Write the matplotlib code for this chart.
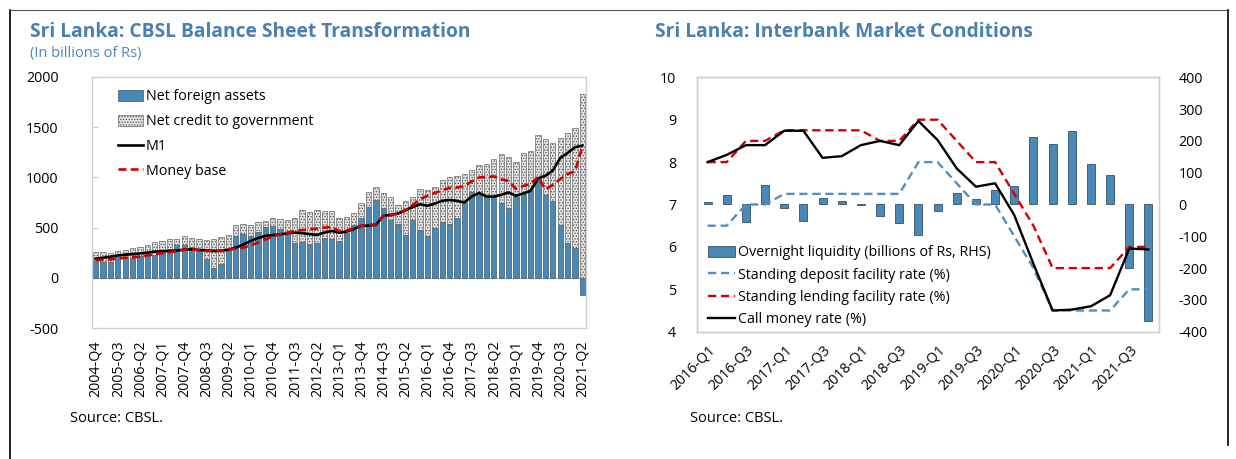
import matplotlib.pyplot as plt
import numpy as np
from matplotlib.lines import Line2D
from matplotlib.patches import Patch

plt.rcParams['font.family'] = ['Open Sans', 'DejaVu Sans']
plt.rcParams['hatch.linewidth'] = 0.6
plt.rcParams['axes.unicode_minus'] = False

TITLE_BLUE = '#4a7fb0'
SUB_BLUE = '#4a86c5'
BAR_BLUE = '#4a89b5'
FRAME = '#d0d0d0'
FS = 10.3

# ---- left panel: CBSL balance sheet, billions of Rs, 2004-Q4 .. 2021-Q2
quarters_bs = [f'{y}-Q{q}' for y in range(2004, 2022) for q in range(1, 5)][3:70]
net_foreign_assets = [167, 160, 160, 205, 210, 200, 215, 235, 225, 260, 283, 330, 327, 310,
                      270, 190, 95, 140, 270, 420, 435, 420, 460, 510, 517, 490, 425, 345,
                      357, 335, 350, 400, 390, 367, 450, 527, 600, 707, 773, 693, 573, 540,
                      427, 573, 473, 417, 500, 560, 540, 593, 750, 850, 823, 800, 800, 750,
                      693, 800, 833, 867, 1007, 823, 760, 527, 343, 300, -167]
net_credit_gov = [90, 100, 90, 58, 63, 97, 88, 95, 135, 103, 104, 60, 93, 90,
                  120, 185, 290, 270, 153, 105, 100, 103, 97, 57, 83, 93, 152, 255,
                  320, 322, 327, 267, 277, 233, 160, 116, 143, 143, 134, 147, 227, 183,
                  333, 227, 410, 456, 400, 417, 467, 420, 283, 227, 300, 333, 383, 483,
                  507, 350, 410, 393, 416, 560, 580, 866, 1097, 1190, 1833]
m1 = [190, 200, 210, 222, 230, 236, 243, 250, 260, 265, 267, 272, 280, 283,
      278, 273, 268, 270, 280, 300, 330, 367, 395, 417, 425, 433, 442, 450,
      445, 435, 427, 450, 467, 450, 460, 485, 517, 520, 527, 617, 627, 640,
      673, 705, 733, 717, 740, 767, 775, 767, 750, 810, 845, 810, 808, 827,
      850, 817, 840, 867, 990, 1017, 1067, 1193, 1243, 1300, 1317]
money_base = [177, 178, 183, 192, 200, 205, 210, 222, 236, 245, 255, 265, 280, 283,
              275, 267, 266, 268, 280, 290, 300, 323, 350, 383, 410, 433, 450, 467,
              475, 482, 490, 500, 505, 467, 470, 495, 517, 525, 533, 617, 623, 640,
              667, 725, 783, 817, 845, 873, 895, 900, 910, 960, 1000, 1003, 1010, 980,
              965, 885, 915, 935, 1005, 880, 925, 983, 1033, 1060, 1305]

# ---- right panel: interbank market, 2016-Q1 .. 2021-Q4
quarters_ib = [f'{y}-Q{q}' for y in range(2016, 2022) for q in range(1, 5)]
overnight_liquidity = [8, 30, -55, 60, -12, -52, 22, 12, -2, -35, -58, -96,
                       -22, 35, 18, 46, 57, 211, 189, 231, 128, 92, -201, -366]
sdfr = [6.5, 6.5, 7.0, 7.0, 7.25, 7.25, 7.25, 7.25, 7.25, 7.25, 7.25, 8.0,
        8.0, 7.5, 7.0, 7.0, 6.25, 5.5, 4.5, 4.5, 4.5, 4.5, 5.0, 5.0]
slfr = [8.0, 8.0, 8.5, 8.5, 8.75, 8.75, 8.75, 8.75, 8.75, 8.5, 8.5, 9.0,
        9.0, 8.5, 8.0, 8.0, 7.25, 6.5, 5.5, 5.5, 5.5, 5.5, 6.0, 6.0]
call_rate = [8.0, 8.17, 8.4, 8.4, 8.74, 8.74, 8.1, 8.14, 8.4, 8.5, 8.4, 8.97,
             8.52, 7.85, 7.42, 7.5, 6.75, 5.6, 4.5, 4.52, 4.6, 4.86, 5.96, 5.94]

W, H = 1236, 459
fig = plt.figure(figsize=(W / 100, H / 100), dpi=100)


def px(x, y):
    return x / W, 1 - y / H


def frame(ax):
    for s in ax.spines.values():
        s.set_color(FRAME)
        s.set_linewidth(1)


# ================= left panel
ax1 = fig.add_axes([92 / W, 1 - 328 / H, 494 / W, 251 / H])
x1 = np.arange(len(quarters_bs))
nfa = np.array(net_foreign_assets)
ncg = np.array(net_credit_gov)
ax1.bar(x1, nfa, width=0.72, color=BAR_BLUE, edgecolor='#1e3a52', linewidth=0.4, zorder=2)
ax1.bar(x1, ncg, width=0.72, bottom=np.maximum(nfa, 0), color='#e4e4e4',
        edgecolor='#4d4d4d', linewidth=0.4, hatch='......', zorder=2)
ax1.axhline(0, color='#c8c8c8', lw=1, zorder=1)
ax1.plot(x1, m1, color='black', lw=1.9, zorder=4)
ax1.plot(x1, money_base, color='#d40000', lw=1.9, ls=(0, (3, 1.6)), zorder=4)
ax1.set_xlim(-0.5, len(x1) - 0.5)
ax1.set_ylim(-500, 2000)
ax1.set_yticks(range(-500, 2001, 500))
ax1.set_xticks(x1[::3])
ax1.set_xticklabels(quarters_bs[::3], rotation=90)
ax1.tick_params(axis='y', direction='in', length=4, color=FRAME, pad=24, labelsize=FS)
ax1.tick_params(axis='x', length=0, pad=9, labelsize=FS)
frame(ax1)

h1 = [Patch(facecolor=BAR_BLUE, edgecolor='#1e3a52', linewidth=0.4),
      Patch(facecolor='#e4e4e4', edgecolor='#4d4d4d', linewidth=0.4, hatch='......'),
      Line2D([], [], color='black', lw=1.9),
      Line2D([], [], color='#d40000', lw=1.9, ls=(0, (3, 1.6)))]
ax1.legend(h1, ['Net foreign assets', 'Net credit to government', 'M1', 'Money base'],
           loc='upper left', bbox_to_anchor=(0.035, 0.985), frameon=False, fontsize=FS,
           handlelength=1.75, handleheight=0.8, handletextpad=0.2, labelspacing=0.68,
           borderaxespad=0.2)

# ================= right panel
ax2 = fig.add_axes([697 / W, 1 - 331.7 / H, 462 / W, 254.4 / H])
ax2r = ax2.twinx()
x2 = np.arange(len(quarters_ib))
ax2r.bar(x2, overnight_liquidity, width=0.42, color=BAR_BLUE, edgecolor='#1e3a52',
         linewidth=0.5)
ax2r.set_ylim(-400, 400)
ax2r.set_yticks(range(-400, 401, 100))
ax2r.tick_params(length=0, pad=14, labelsize=FS)

ax2.set_zorder(ax2r.get_zorder() + 1)
ax2.patch.set_visible(False)
ax2.plot(x2, sdfr, color='#4f8fc4', lw=1.7, ls=(0, (3.5, 2)))
ax2.plot(x2, slfr, color='#d40000', lw=1.7, ls=(0, (3.5, 2)))
ax2.plot(x2, call_rate, color='black', lw=1.7)
ax2.set_ylim(4, 10)
ax2.set_xlim(-0.55, len(x2) - 0.45)
ax2.set_yticks(range(4, 11))
ax2.set_xticks(x2[::2])
ax2.set_xticklabels(quarters_ib[::2], rotation=45, ha='right', rotation_mode='anchor')
ax2.tick_params(axis='y', length=0, pad=15, labelsize=FS)
ax2.tick_params(axis='x', length=0, pad=8, labelsize=FS)
frame(ax2)
frame(ax2r)

h2 = [Patch(facecolor=BAR_BLUE, edgecolor='#1e3a52', linewidth=0.5),
      Line2D([], [], color='#4f8fc4', lw=1.7, ls=(0, (3.5, 2))),
      Line2D([], [], color='#d40000', lw=1.7, ls=(0, (3.5, 2))),
      Line2D([], [], color='black', lw=1.7)]
ax2.legend(h2, ['Overnight liquidity (billions of Rs, RHS)', 'Standing deposit facility rate (%)',
                'Standing lending facility rate (%)', 'Call money rate (%)'],
           loc='lower left', bbox_to_anchor=(0.005, -0.015), frameon=False, fontsize=FS,
           handlelength=1.9, handleheight=0.8, handletextpad=0.2, labelspacing=0.5,
           borderaxespad=0.2)

# ================= texts
fig.text(*px(30, 32), 'Sri Lanka: CBSL Balance Sheet Transformation', color=TITLE_BLUE,
         fontsize=13.8, fontweight='bold', va='center')
fig.text(*px(30, 54), '(In billions of Rs)', color=SUB_BLUE, fontsize=10.5, va='center')
fig.text(*px(655, 32), 'Sri Lanka: Interbank Market Conditions', color=TITLE_BLUE,
         fontsize=13.8, fontweight='bold', va='center')
fig.text(*px(70, 418), 'Source: CBSL.', fontsize=10.5, va='center')
fig.text(*px(690, 418), 'Source: CBSL.', fontsize=10.5, va='center')

# page frame lines
fig.add_artist(Line2D([10 / W, 10 / W], [0, 1 - 10 / H], color='black', lw=1.2))
fig.add_artist(Line2D([10 / W, 1228 / W], [1 - 10 / H, 1 - 10 / H], color='#555555', lw=0.8))
fig.add_artist(Line2D([1228 / W, 1228 / W], [1 - 10 / H, 1 - 445 / H], color='black', lw=1.2))

fig.savefig('out.png', dpi=100)
